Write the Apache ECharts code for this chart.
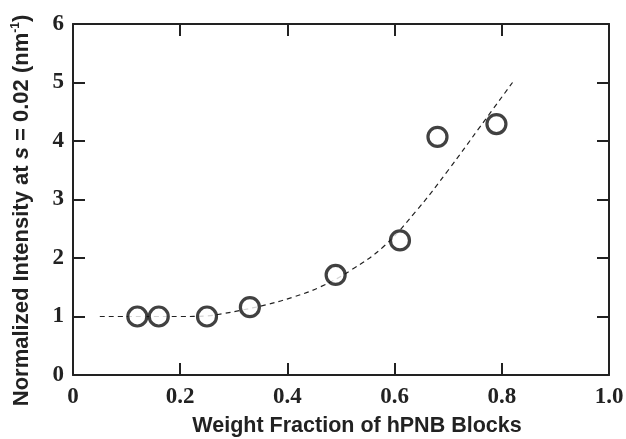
<!DOCTYPE html>
<html>
<head>
<meta charset="utf-8">
<script src="https://cdn.jsdelivr.net/npm/echarts@6/dist/echarts.min.js"></script>
<style>
  html, body { margin: 0; padding: 0; background: #fff; }
  #chart { width: 626px; height: 439px; }
</style>
</head>
<body>
<div id="chart"></div>
<script>
// measured points
const fraction = [0.12, 0.16, 0.25, 0.33, 0.49, 0.61, 0.68, 0.79]
const intensity = [1.0, 1.0, 1.0, 1.16, 1.71, 2.30, 4.07, 4.29]

// dashed guide curve
const curveX = [0.05, 0.10, 0.15, 0.20, 0.25, 0.28, 0.31, 0.36, 0.41, 0.46, 0.52, 0.58, 0.64, 0.70, 0.76, 0.82]
const curveY = [1.0, 1.0, 1.0, 1.0, 1.01, 1.05, 1.1, 1.2, 1.33, 1.5, 1.8, 2.2, 2.8, 3.5, 4.25, 5.0]

const xTicks = [0, 0.2, 0.4, 0.6, 0.8, 1.0]
const yTicks = [0, 1, 2, 3, 4, 5, 6]

const chart = echarts.init(document.getElementById('chart'))

const frameLine = { show: true, onZero: false, lineStyle: { color: '#222', width: 2 } }
const innerTick = { show: true, inside: true, length: 12, lineStyle: { color: '#222', width: 2 } }
const tickFont = {
  fontFamily: 'Liberation Serif',
  fontWeight: 'bold',
  fontSize: 23,
  color: '#222'
}

chart.setOption({
  animation: false,
  grid: { left: 73, right: 17, top: 24, bottom: 64, outerBoundsMode: 'none' },
  xAxis: [{
    type: 'value',
    min: xTicks[0],
    max: xTicks[xTicks.length - 1],
    interval: 0.2,
    axisLine: frameLine,
    axisTick: innerTick,
    splitLine: { show: false },
    axisLabel: {
      ...tickFont,
      margin: 11,
      formatter: v => (v === 0 ? '0' : v.toFixed(1))
    },
    name: 'Weight Fraction of hPNB Blocks',
    nameLocation: 'middle',
    nameGap: 40,
    nameTextStyle: {
      fontFamily: 'Liberation Sans',
      fontWeight: 'bold',
      fontSize: 21.5,
      color: '#222',
      padding: [0, 0, 0, 32]
    }
  }, {
    type: 'value',
    position: 'top',
    min: 0,
    max: 1,
    interval: 0.2,
    axisLine: frameLine,
    axisTick: innerTick,
    axisLabel: { show: false },
    splitLine: { show: false }
  }],
  yAxis: [{
    type: 'value',
    min: yTicks[0],
    max: yTicks[yTicks.length - 1],
    interval: 1,
    axisLine: frameLine,
    axisTick: innerTick,
    splitLine: { show: false },
    axisLabel: { ...tickFont, margin: 9 },
    name: 'Normalized Intensity at {it|s} = 0.02 (nm{sup|-1})',
    nameLocation: 'middle',
    nameRotate: 90,
    nameGap: 39,
    nameTextStyle: {
      fontFamily: 'Liberation Sans',
      fontWeight: 'bold',
      fontSize: 22,
      color: '#222',
      padding: [0, 22, 0, 0],
      rich: {
        it: {
          fontFamily: 'Liberation Sans',
          fontWeight: 'bold',
          fontStyle: 'italic',
          fontSize: 22,
          color: '#222'
        },
        sup: {
          fontFamily: 'Liberation Sans',
          fontWeight: 'bold',
          fontSize: 12,
          color: '#222',
          padding: [0, 0, 12, 0]
        }
      }
    }
  }, {
    type: 'value',
    position: 'right',
    min: 0,
    max: 6,
    interval: 1,
    axisLine: frameLine,
    axisTick: innerTick,
    axisLabel: { show: false },
    splitLine: { show: false }
  }],
  series: [{
    type: 'line',
    data: curveX.map((x, i) => [x, curveY[i]]),
    smooth: 0.4,
    showSymbol: false,
    lineStyle: { color: '#222', width: 1.2, type: [5, 4] },
    z: 1
  }, {
    type: 'scatter',
    data: fraction.map((x, i) => [x, intensity[i]]),
    symbol: 'circle',
    symbolSize: 19,
    itemStyle: { color: '#fff', borderColor: '#111', borderWidth: 3.2 },
    z: 3
  }]
})
</script>
</body>
</html>
